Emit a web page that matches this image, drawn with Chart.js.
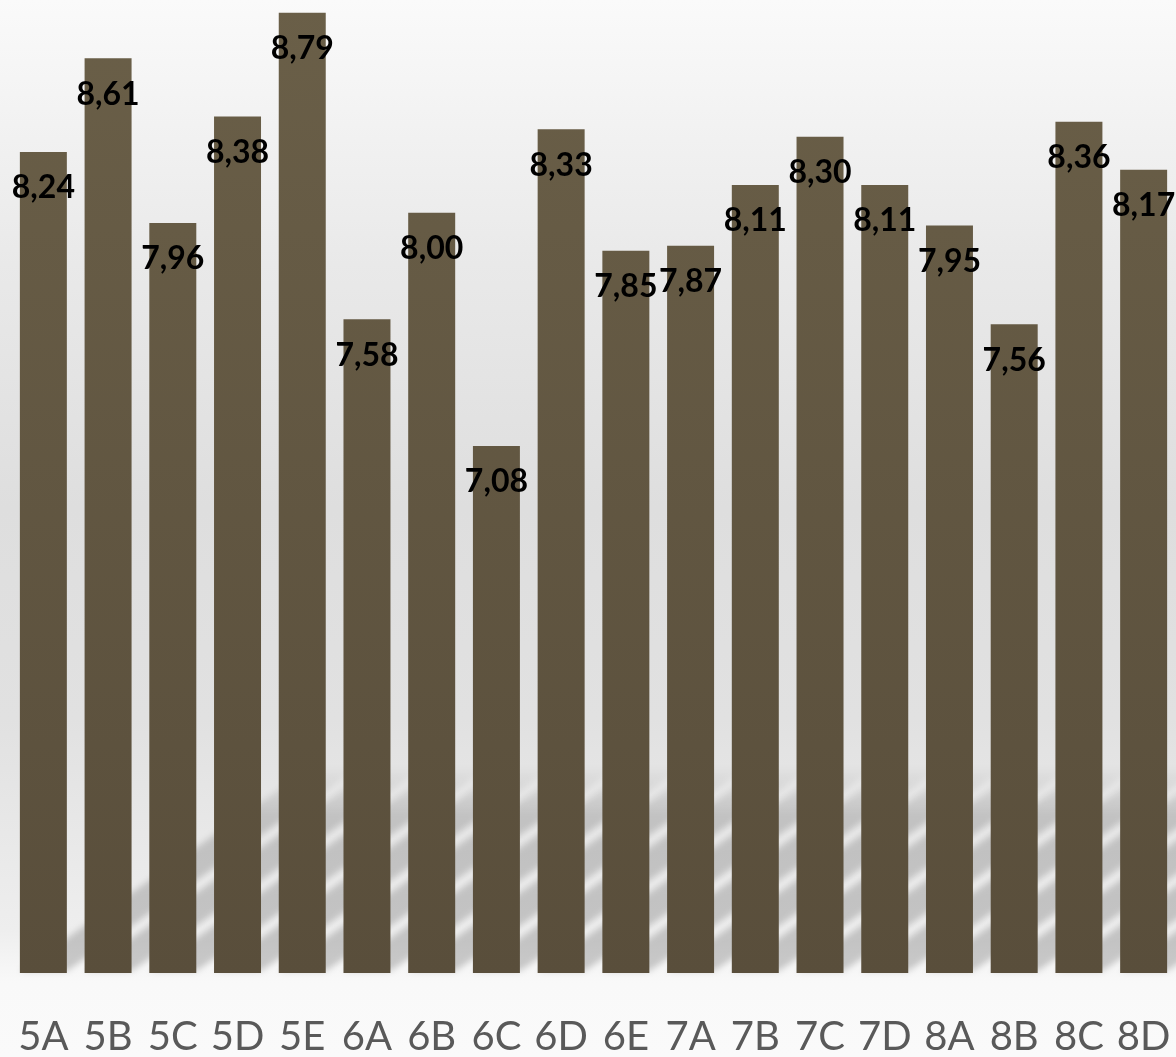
<!DOCTYPE html>
<html>
<head>
<meta charset="utf-8">
<script src="https://cdn.jsdelivr.net/npm/chart.js@4.4.0/dist/chart.umd.min.js"></script>
<style>
    html, body {
        margin: 0;
        padding: 0;
    }
    body {
        width: 1176px;
        height: 1057px;
        overflow: hidden;
        background: linear-gradient(to bottom, #fafafa 0%, #e9e9e9 25%, #dedede 48%, #e1e1e1 68%, #eeeeee 88%, #f9f9f9 93%, #fafafa 100%);
    }
    canvas {
        display: block;
    }
</style>
</head>
<body>
<canvas id="bar-chart" width="1176" height="1057"></canvas>
<script>
// Class averages
const classes = ['5A', '5B', '5C', '5D', '5E', '6A', '6B', '6C', '6D', '6E', '7A', '7B', '7C', '7D', '8A', '8B', '8C', '8D'];
const averages = [8.24, 8.61, 7.96, 8.38, 8.79, 7.58, 8.00, 7.08, 8.33, 7.85, 7.87, 8.11, 8.30, 8.11, 7.95, 7.56, 8.36, 8.17];

// soft diagonal shadows behind the bars
const shadowPlugin = {
    id: 'barShadows',
    beforeDatasetsDraw(chart) {
        const ctx = chart.ctx;
        const bottom = chart.chartArea.bottom - 2;
        const rise = 205;
        const run = rise / 0.7;
        ctx.save();
        ctx.filter = 'blur(3px)';
        const grad = ctx.createLinearGradient(0, bottom, 0, bottom - rise);
        grad.addColorStop(0, 'rgba(0,0,0,0.19)');
        grad.addColorStop(0.75, 'rgba(0,0,0,0.16)');
        grad.addColorStop(1, 'rgba(0,0,0,0)');
        ctx.fillStyle = grad;
        chart.getDatasetMeta(0).data.forEach(bar => {
            const left = bar.x - bar.width / 2;
            const right = bar.x + bar.width / 2;
            ctx.beginPath();
            ctx.moveTo(left, bottom);
            ctx.lineTo(right, bottom);
            ctx.lineTo(right + run, bottom - rise);
            ctx.lineTo(left + run, bottom - rise);
            ctx.closePath();
            ctx.fill();
        });
        ctx.restore();
    }
};

// value labels inside the top of each bar
const labelPlugin = {
    id: 'valueLabels',
    afterDatasetsDraw(chart) {
        const ctx = chart.ctx;
        ctx.save();
        ctx.font = 'bold 32px Lato';
        ctx.fillStyle = '#000000';
        ctx.textAlign = 'center';
        ctx.textBaseline = 'middle';
        chart.getDatasetMeta(0).data.forEach((bar, i) => {
            const txt = averages[i].toFixed(2).replace('.', ',');
            ctx.fillText(txt, bar.x, bar.y + 36);
        });
        ctx.restore();
    }
};

document.addEventListener('DOMContentLoaded', function () {
    const barCtx = document.getElementById('bar-chart');
    new Chart(barCtx, {
        type: 'bar',
        data: {
            labels: classes,
            datasets: [{
                data: averages,
                backgroundColor: function (context) {
                    const area = context.chart.chartArea;
                    if (!area) return '#62573f';
                    const g = context.chart.ctx.createLinearGradient(0, area.top, 0, area.bottom);
                    g.addColorStop(0, '#6a5f48');
                    g.addColorStop(1, '#594e3b');
                    return g;
                },
                borderWidth: 0,
                barPercentage: 0.726,
                categoryPercentage: 1.0
            }]
        },
        options: {
            responsive: false,
            maintainAspectRatio: false,
            animation: false,
            devicePixelRatio: 1,
            layout: {
                padding: { left: 11, right: 0, top: 0, bottom: 0 }
            },
            plugins: {
                legend: { display: false },
                tooltip: { enabled: false }
            },
            scales: {
                y: {
                    display: false,
                    min: 5,
                    max: 8.84
                },
                x: {
                    grid: { display: false, drawTicks: false },
                    border: { display: false },
                    ticks: {
                        color: '#595959',
                        padding: 44,
                        maxRotation: 0,
                        autoSkip: false,
                        font: { family: 'Lato', size: 40, lineHeight: 1 }
                    },
                    afterFit: function (scale) {
                        scale.height = 84;
                        scale.paddingLeft = 0;
                        scale.paddingRight = 0;
                    }
                }
            }
        },
        plugins: [shadowPlugin, labelPlugin]
    });
});
</script>
</body>
</html>
